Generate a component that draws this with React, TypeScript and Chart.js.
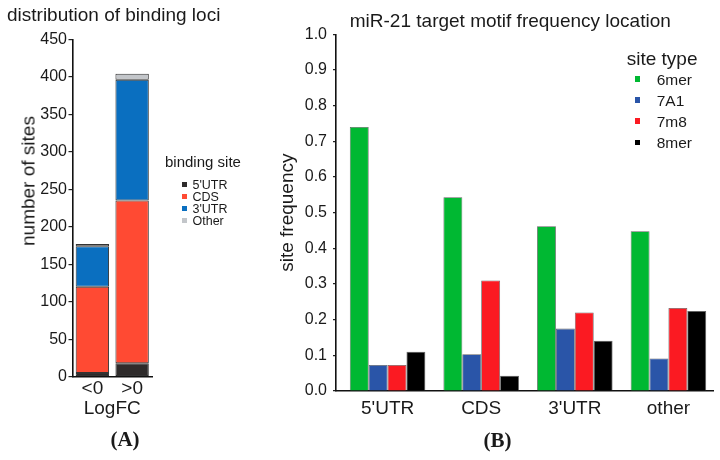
import React, { useEffect, useRef } from "react";
import { Chart, registerables } from "chart.js";

Chart.register(...registerables);

// ---- Panel A data ----
const groupsA = ["<0", ">0"];
const utr5A = [5, 18];
const cdsA = [115, 217];
const utr3A = [54, 161];
const otherA = [3, 8];
const seriesNamesA = ["5'UTR", "CDS", "3'UTR", "Other"];
const colorsA = ["#2e2b2b", "#ff4a33", "#0a6fc0", "#c3c6ca"];

// ---- Panel B data ----
const categoriesB = ["5'UTR", "CDS", "3'UTR", "other"];
const mer6 = [0.74, 0.543, 0.462, 0.448];
const a71 = [0.073, 0.103, 0.175, 0.091];
const m78 = [0.073, 0.31, 0.22, 0.233];
const mer8 = [0.11, 0.043, 0.141, 0.224];
const seriesNamesB = ["6mer", "7A1", "7m8", "8mer"];
const colorsB = ["#00b832", "#2a55a8", "#fb1a22", "#000000"];

const FONT = "'Liberation Sans', Arial, Helvetica, sans-serif";
const SERIF = "'Liberation Serif', 'Times New Roman', serif";
const TXT = "#1a1a1a";

function Text(props: { x: number; baseline: number; size: number; text: string; center?: boolean; serif?: boolean; bold?: boolean }) {
  const { x, baseline, size, text, center, serif, bold } = props;
  return (
    <div
      style={{
        position: "absolute",
        left: x,
        top: baseline - 0.8465 * size,
        fontSize: size,
        lineHeight: 1,
        fontFamily: serif ? SERIF : FONT,
        fontWeight: bold ? "bold" : "normal",
        color: TXT,
        whiteSpace: "nowrap",
        transform: center ? "translateX(-50%)" : undefined,
      }}
    >
      {text}
    </div>
  );
}

function Swatch(props: { x: number; cy: number; size: number; color: string }) {
  const { x, cy, size, color } = props;
  return (
    <div style={{ position: "absolute", left: x, top: cy - size / 2, width: size, height: size, background: color }} />
  );
}

export default function App() {
  const refA = useRef<HTMLCanvasElement>(null);
  const refB = useRef<HTMLCanvasElement>(null);

  useEffect(() => {
    document.body.style.margin = "0";
    const seriesA = [utr5A, cdsA, utr3A, otherA];
    const chartA = new Chart(refA.current as HTMLCanvasElement, {
      type: "bar",
      data: {
        labels: groupsA,
        datasets: seriesA.map((d, i) => ({
          label: seriesNamesA[i],
          data: d,
          backgroundColor: colorsA[i],
          borderColor: "#333333",
          borderWidth: 1,
          borderSkipped: false,
          categoryPercentage: 1,
          barPercentage: 0.84,
        })),
      },
      options: {
        responsive: false,
        animation: false,
        layout: { padding: { left: 0, top: 39.3, right: 128, bottom: 40.1 } },
        plugins: { legend: { display: false }, tooltip: { enabled: false } },
        scales: {
          x: {
            stacked: true,
            grid: { display: false, drawTicks: false },
            border: { display: true, color: "#111", width: 1.6 },
            ticks: { font: { family: FONT, size: 19 }, color: TXT, padding: 1, maxRotation: 0, autoSkip: false },
            title: { display: true, text: "LogFC", font: { family: FONT, size: 19 }, color: TXT, padding: { top: 0, bottom: 0 } },
            afterFit: (s: any) => {
              s.height = 43.2;
            },
          },
          y: {
            stacked: true,
            min: 0,
            max: 450,
            ticks: { stepSize: 50, font: { family: FONT, size: 16 }, color: TXT, padding: 1.5 },
            grid: { display: true, drawOnChartArea: false, drawTicks: true, tickLength: 4, color: "#222", lineWidth: 1.2 },
            border: { display: true, color: "#111", width: 1.6 },
            afterFit: (s: any) => {
              s.width = 72.5;
            },
          },
        },
      } as any,
    });

    const seriesB = [mer6, a71, m78, mer8];
    const chartB = new Chart(refB.current as HTMLCanvasElement, {
      type: "bar",
      data: {
        datasets: seriesB.map((d, i) => ({
          label: seriesNamesB[i],
          data: d.map((y, k) => ({ x: k, y })),
          backgroundColor: colorsB[i],
          borderColor: "rgba(70,70,70,0.85)",
          borderWidth: 0.8,
          categoryPercentage: 0.807,
          barPercentage: 1,
        })),
      },
      options: {
        responsive: false,
        animation: false,
        layout: { padding: { left: 0, top: 34.3, right: 7, bottom: 29 } },
        plugins: { legend: { display: false }, tooltip: { enabled: false } },
        scales: {
          x: {
            type: "linear",
            offset: false,
            min: -0.551,
            max: 3.476,
            grid: { display: false, drawTicks: false },
            border: { display: true, color: "#111", width: 1.6 },
            ticks: {
              stepSize: 1,
              includeBounds: false,
              autoSkip: false,
              maxRotation: 0,
              padding: 6.6,
              font: { family: FONT, size: 19 },
              color: TXT,
              callback: (v: any) => categoriesB[Number(v)] ?? "",
            },
            afterFit: (s: any) => {
              s.height = 40;
            },
          },
          y: {
            min: 0,
            max: 1,
            ticks: {
              stepSize: 0.1,
              font: { family: FONT, size: 16 },
              color: TXT,
              padding: 6,
              callback: (v: any) => Number(v).toFixed(1),
            },
            grid: { display: true, drawOnChartArea: false, drawTicks: true, tickLength: 3, color: "#222", lineWidth: 1.2 },
            border: { display: true, color: "#111", width: 1.6 },
            title: { display: true, text: "site frequency", font: { family: FONT, size: 19 }, color: TXT, padding: { top: 6.6, bottom: 0 } },
            afterFit: (s: any) => {
              s.width = 66;
            },
          },
        },
      } as any,
    });

    return () => {
      chartA.destroy();
      chartB.destroy();
    };
  }, []);

  const legendABase = [189.3, 201.2, 213.3, 225.5];
  const legendBBase = [85, 106, 126.8, 148.2];

  return (
    <div style={{ position: "fixed", left: 0, top: 0, width: 720, height: 460, background: "#ffffff", overflow: "hidden" }}>
      <canvas ref={refA} width={280} height={460} style={{ position: "absolute", left: 0, top: 0, width: 280, height: 460 }} />
      <canvas ref={refB} width={450} height={460} style={{ position: "absolute", left: 270, top: 0, width: 450, height: 460 }} />

      {/* Panel A texts */}
      <Text x={7} baseline={21} size={19} text="distribution of binding loci" />
      <div
        style={{
          position: "absolute",
          left: 28.4,
          top: 181,
          fontSize: 19,
          lineHeight: 1,
          fontFamily: FONT,
          color: TXT,
          whiteSpace: "nowrap",
          transform: "translate(-50%, -50%) rotate(-90deg)",
        }}
      >
        number of sites
      </div>
      <Text x={165} baseline={166.5} size={15} text="binding site" />
      {seriesNamesA.map((n, i) => (
        <React.Fragment key={n}>
          <Swatch x={182} cy={legendABase[i] - 4.8} size={5} color={colorsA[i]} />
          <Text x={192.5} baseline={legendABase[i]} size={12.5} text={n} />
        </React.Fragment>
      ))}
      <Text x={125} baseline={447} size={21} text="(A)" center serif bold />

      {/* Panel B texts */}
      <Text x={510.3} baseline={27.5} size={19} text="miR-21 target motif frequency location" center />
      <Text x={626.7} baseline={65} size={19} text="site type" />
      {seriesNamesB.map((n, i) => (
        <React.Fragment key={n}>
          <Swatch x={634.5} cy={legendBBase[i] - 5.8} size={5.5} color={colorsB[i]} />
          <Text x={656.7} baseline={legendBBase[i]} size={15.5} text={n} />
        </React.Fragment>
      ))}
      <Text x={497.5} baseline={448} size={21} text="(B)" center serif bold />
    </div>
  );
}
